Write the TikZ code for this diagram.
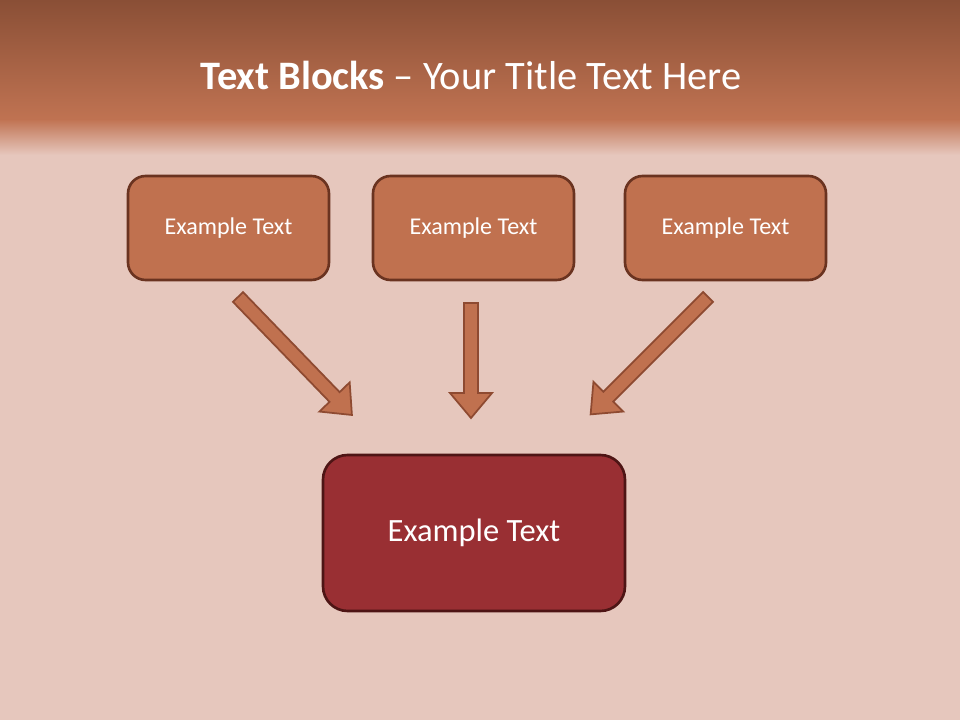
\documentclass[tikz,border=0pt]{standalone}
\usepackage{fontspec}
\setmainfont{Carlito}
\definecolor{bg}{HTML}{E6C7BD}
\definecolor{topd}{HTML}{8A4F36}
\definecolor{topl}{HTML}{C07352}
\definecolor{boxf}{HTML}{C0714F}
\definecolor{boxd}{HTML}{6A3320}
\definecolor{redf}{HTML}{992F33}
\definecolor{redd}{HTML}{4E1515}
\definecolor{arrd}{HTML}{8E4A31}
\tikzset{
 tbox/.style={draw=boxd,line width=1.5pt,fill=boxf,rounded corners=10pt,minimum width=201*0.02cm,minimum height=104*0.02cm,text=white,font=\fontsize{13.7}{16}\selectfont},
 bbox/.style={draw=redd,line width=1.5pt,fill=redf,rounded corners=14pt,minimum width=302*0.02cm,minimum height=156*0.02cm,text=white,font=\fontsize{18.5}{22}\selectfont},
 arr/.style={draw=arrd,line width=1pt,fill=boxf}
}
\begin{document}
\begin{tikzpicture}[x=0.02cm,y=0.02cm]
\useasboundingbox (0,0) rectangle (960,720);
\fill[bg] (0,0) rectangle (960,720);
\shade[top color=topd,bottom color=topl] (0,720) rectangle (960,600);
\shade[top color=topl,bottom color=bg] (0,600.5) rectangle (960,565);
\node[text=white,font=\fontsize{23}{27}\selectfont] (title) at (471,645) {\textbf{Text Blocks} – Your Title Text Here};
\node[tbox] (b1) at (228.5,492) {Example Text};
\node[tbox] (b2) at (473.5,492) {Example Text};
\node[tbox] (b3) at (725.5,492) {Example Text};
\node[bbox] (b4) at (474,187) {Example Text};
\foreach \sx/\sy/\ang/\L in {238/423/-46/164, 471/417/-90/115, 708/423/-135/166}{
 \begin{scope}[shift={(\sx,\sy)},rotate=\ang]
 \draw[arr] (0,-7)--(\L-25,-7)--(\L-25,-21)--(\L,0)--(\L-25,21)--(\L-25,7)--(0,7)--cycle;
 \end{scope}}
\end{tikzpicture}
\end{document}
